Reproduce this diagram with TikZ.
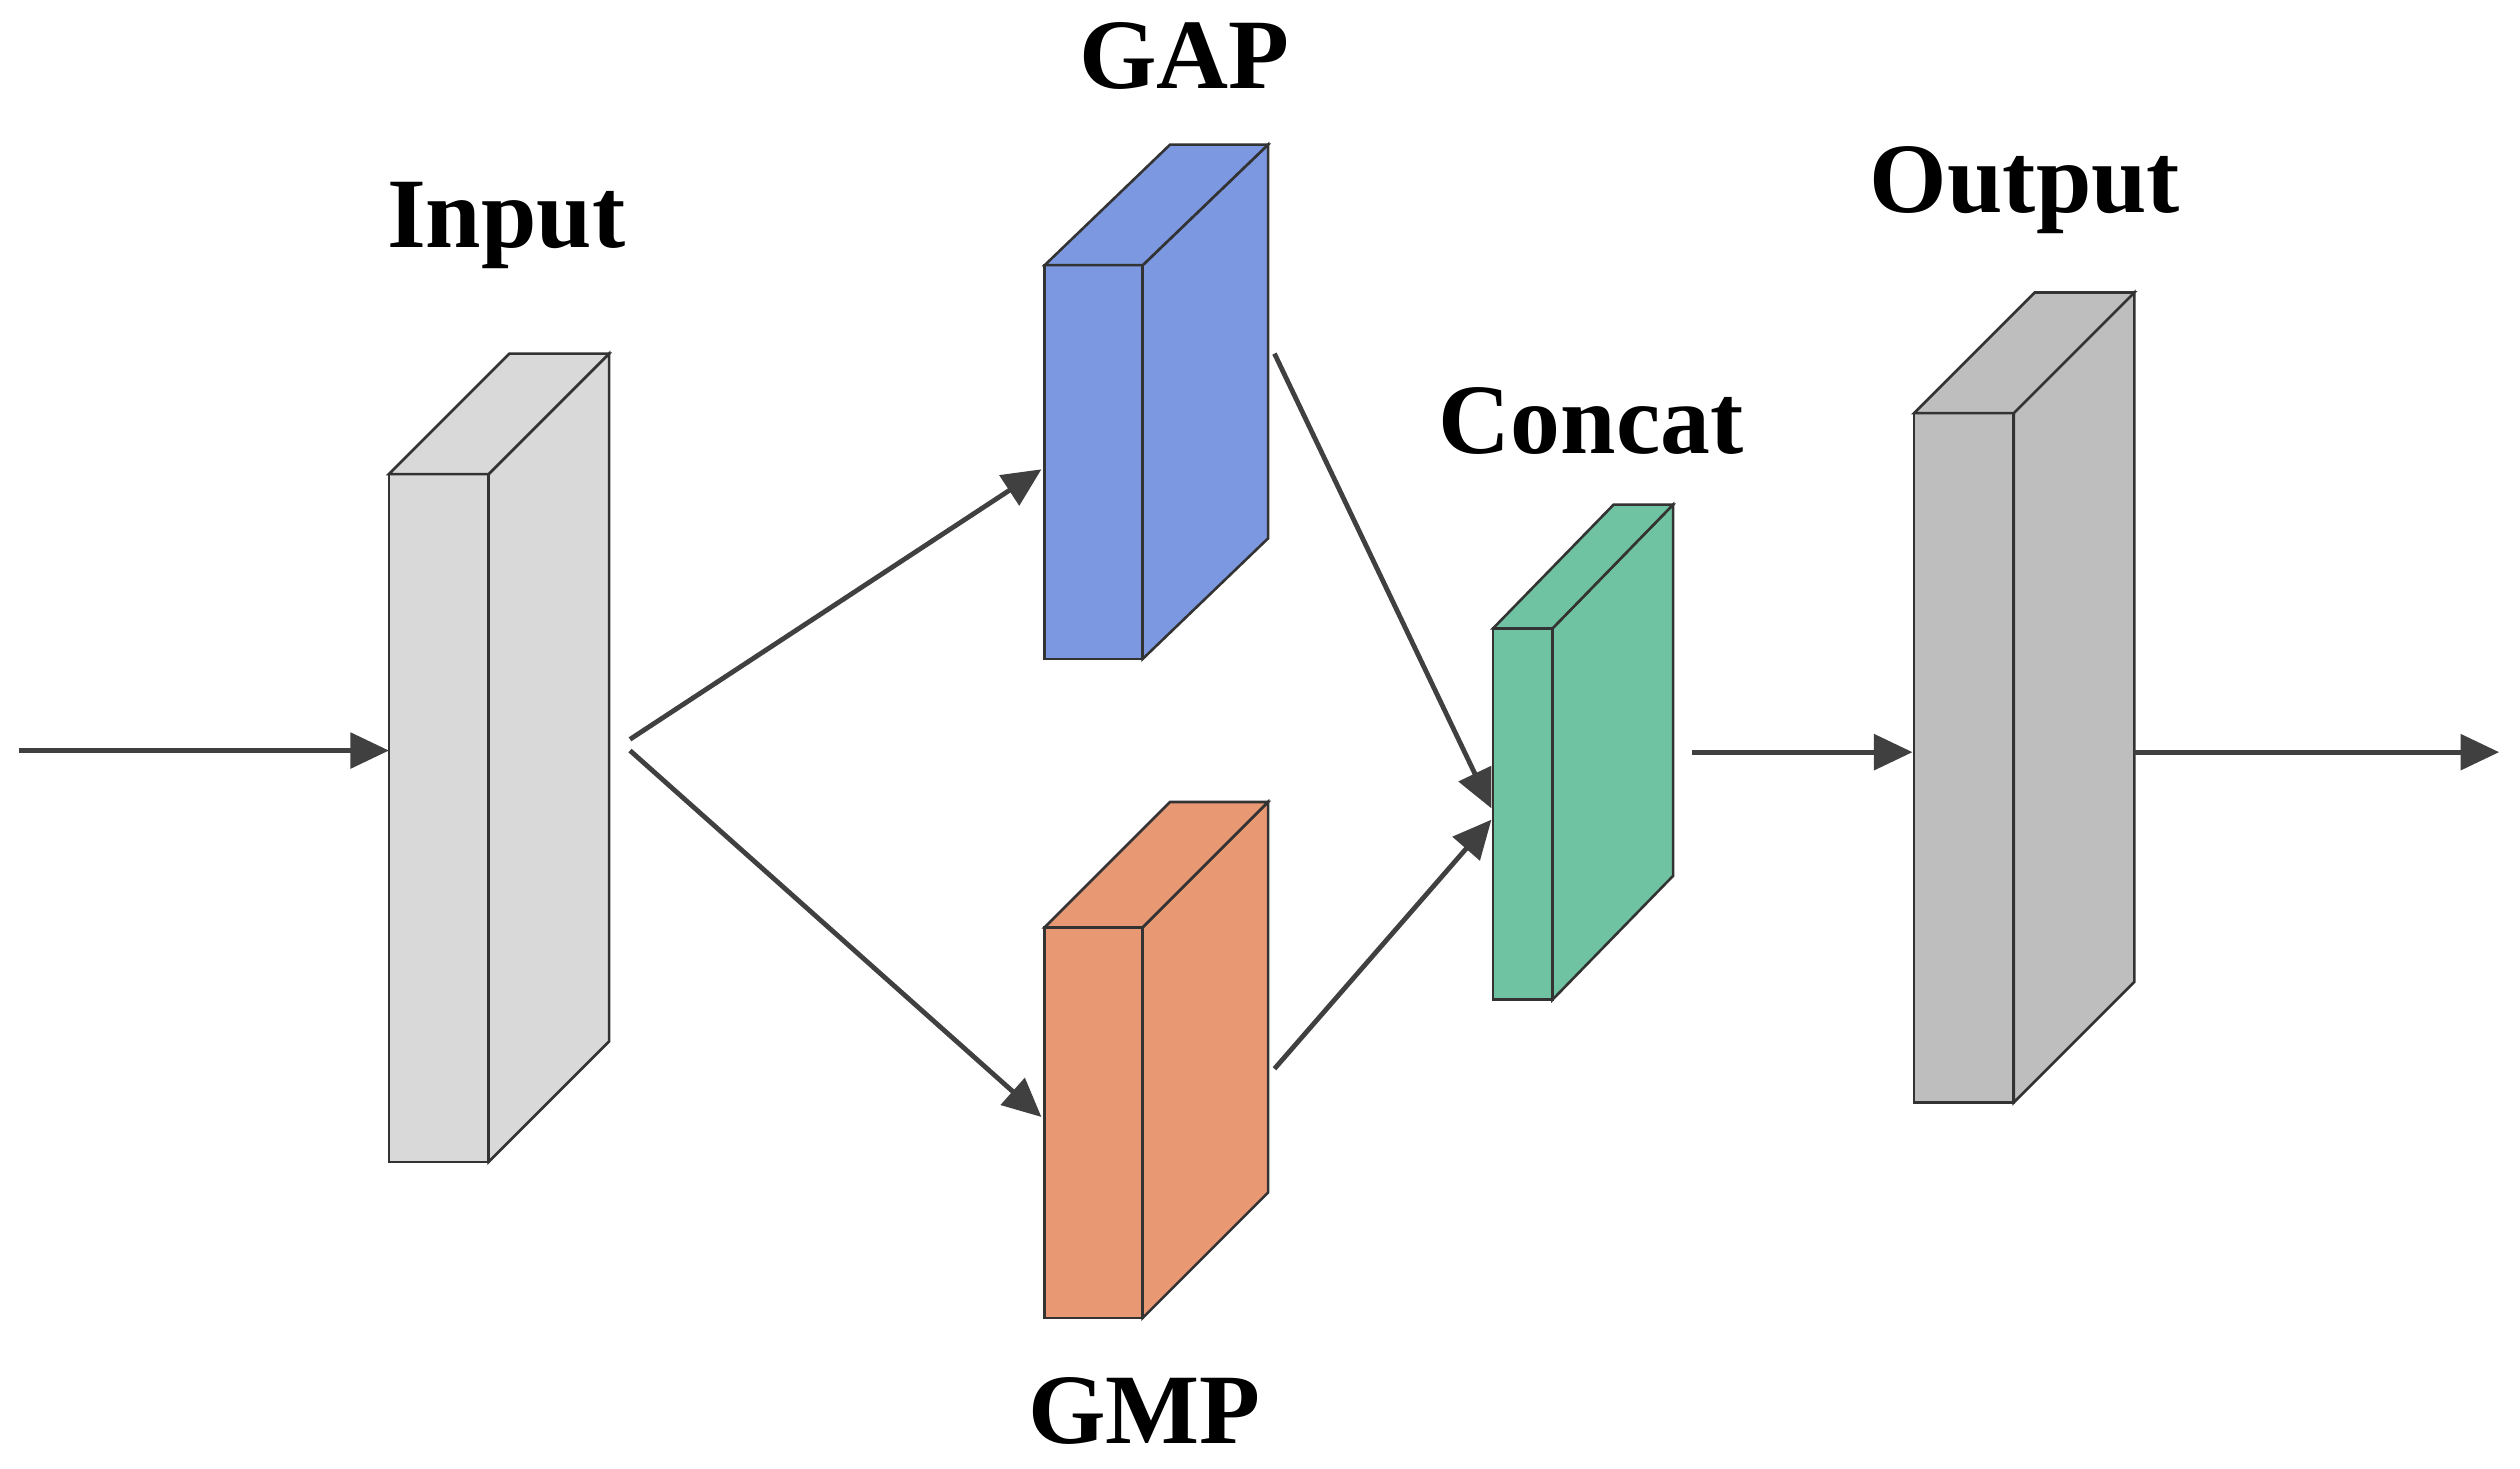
\documentclass[tikz,border=0pt]{standalone}
\usepackage{fontspec}
\setmainfont{Liberation Serif}
\usetikzlibrary{arrows.meta}
\definecolor{cin}{HTML}{D9D9D9}
\definecolor{cgap}{HTML}{7B98E0}
\definecolor{cgmp}{HTML}{E99874}
\definecolor{ccat}{HTML}{70C3A2}
\definecolor{cout}{HTML}{BEBEBE}
\definecolor{ln}{HTML}{404040}
\newcommand\blk[7]{%
  \draw[edge,fill=#7] (#1,#2) rectangle (#3,#4);
  \draw[edge,fill=#7] (#3,#2) -- ++(#5,#6) -- ++(0,#4-#2) -- (#3,#4) -- cycle;
  \draw[edge,fill=#7] (#1,#2) -- ++(#5,#6) -- ++(#3-#1,0) -- (#3,#2) -- cycle;
}
\tikzset{edge/.style={draw=black!80,line width=1.6pt},
  arr/.style={draw=ln,line width=3pt,-{Triangle[length=24pt,width=22pt]}},
  lab/.style={font=\fontsize{62}{70}\selectfont\bfseries}}
\begin{document}
\begin{tikzpicture}[x=1pt,y=-1pt]
\useasboundingbox (0,0) rectangle (1568,914);
\blk{242}{295}{304}{723}{75}{-75}{cin}
\blk{650}{165}{711}{410}{78}{-75}{cgap}
\blk{650}{577}{711}{820}{78}{-78}{cgmp}
\blk{929}{391}{966}{622}{75}{-77}{ccat}
\blk{1191}{257}{1253}{686}{75}{-75}{cout}
\node[lab] (tin) at (315,140) {Input};
\node[lab] (tgap) at (737,35) {GAP};
\node[lab] (tcat) at (990,262) {Concat};
\node[lab] (tout) at (1260,118) {Output};
\node[lab] (tgmp) at (712,878) {GMP};
\coordinate (s0) at (12,467); \coordinate (inL) at (242,467);
\coordinate (inR) at (392,460); \coordinate (inR2) at (392,467);
\coordinate (gapL) at (648,292); \coordinate (gmpL) at (648,695);
\coordinate (gapR) at (793,220); \coordinate (gmpR) at (793,665);
\coordinate (catL1) at (928,503); \coordinate (catL2) at (928,510);
\coordinate (catR) at (1053,468); \coordinate (outL) at (1190,468);
\coordinate (outR) at (1328,468); \coordinate (e) at (1555,468);
\draw[arr] (s0) -- (inL);
\draw[arr] (inR) -- (gapL);
\draw[arr] (inR2) -- (gmpL);
\draw[arr] (gapR) -- (catL1);
\draw[arr] (gmpR) -- (catL2);
\draw[arr] (catR) -- (outL);
\draw[arr] (outR) -- (e);
\end{tikzpicture}
\end{document}
